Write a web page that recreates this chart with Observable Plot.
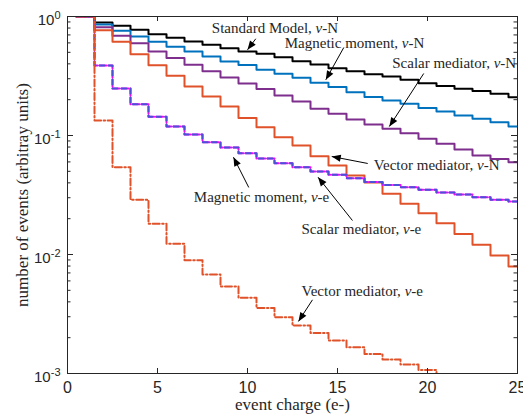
<!DOCTYPE html>
<html><head><meta charset="utf-8">
<script src="https://cdn.jsdelivr.net/npm/d3@7"></script>
<script src="https://cdn.jsdelivr.net/npm/@observablehq/plot@0.6"></script>
<style>body{margin:0;background:#fff;}</style>
</head><body><div id="chart"></div>
<script>
// event charge bins (centres)
const charge = [1,2,3,4,5,6,7,8,9,10,11,12,13,14,15,16,17,18,19,20,21,22,23,24,25];

// series values (normalised number of events)
const standardModelN = [1,0.890,0.835,0.773,0.710,0.662,0.616,0.578,0.542,0.508,0.486,0.455,0.421,0.395,0.368,0.347,0.327,0.313,0.294,0.275,0.260,0.247,0.236,0.224,0.210];
const magneticN = [1,0.857,0.758,0.679,0.613,0.556,0.508,0.461,0.419,0.391,0.357,0.330,0.305,0.277,0.255,0.231,0.211,0.197,0.185,0.170,0.159,0.147,0.138,0.129,0.119];
const scalarN = [1,0.813,0.688,0.597,0.508,0.447,0.393,0.347,0.307,0.273,0.246,0.217,0.193,0.168,0.152,0.136,0.124,0.114,0.1045,0.0938,0.0851,0.0762,0.0679,0.0635,0.0597];
const vectorN = [1,0.767,0.613,0.482,0.390,0.318,0.258,0.213,0.175,0.140,0.1174,0.0968,0.0824,0.0670,0.0560,0.0461,0.0403,0.0324,0.0267,0.0222,0.0183,0.0149,0.0121,0.00981,0.00792];
const magneticE = [1,0.388,0.248,0.183,0.1436,0.119,0.1019,0.0879,0.0793,0.0709,0.0641,0.0585,0.0542,0.0498,0.0468,0.0438,0.0407,0.0384,0.0368,0.0350,0.0332,0.0319,0.0303,0.0288,0.0279];
const scalarE = [1,0.388,0.248,0.183,0.1436,0.119,0.1019,0.0879,0.0793,0.0709,0.0641,0.0585,0.0542,0.0498,0.0468,0.0438,0.0407,0.0384,0.0368,0.0350,0.0332,0.0319,0.0303,0.0288,0.0279];
const vectorE = [1,0.134,0.0542,0.0288,0.0181,0.0123,0.00895,0.00679,0.00538,0.00433,0.00355,0.00297,0.00253,0.00219,0.00189,0.00166,0.00146,0.00131,0.00119,0.00107,0.0009];

// ticks
const xTicks = [0,5,10,15,20,25];
const yMajor = [1e-3,1e-2,1e-1,1];
const yMinorFactors = [2,3,4,5,6,7,8,9];

// labels
const xLabel = "event charge (e-)";
const yLabel = "number of events (arbitray units)";

// annotations (data coordinates)
const annLabels = ["Standard Model, ν-N","Magnetic moment, ν-N","Scalar mediator, ν-N","Vector mediator, ν-N","Magnetic moment, ν-e","Scalar mediator, ν-e","Vector mediator, ν-e"];
const annX = [8.02,12.07,18.04,17.02,7.02,13.0,13.0];
const annY = [0.793,0.593,0.403,0.056,0.0301,0.0162,0.00492];
const arrX1 = [10.46,15.35,19.79,16.68,10.07,15.83,13.61];
const arrY1 = [0.650,0.549,0.332,0.0582,0.0366,0.0193,0.00416];
const arrX2 = [10.0,14.35,17.88,14.68,9.22,13.92,12.83];
const arrY2 = [0.525,0.294,0.119,0.0666,0.0657,0.0446,0.00274];

function steps(values) {
  const rows = values.map((v, i) => ({x: charge[i] - 0.5, y: v}));
  rows.push({x: charge[values.length - 1] + 0.5, y: values[values.length - 1]});
  return rows;
}
const yMinor = yMajor.slice(0, -1).flatMap(d => yMinorFactors.map(m => d * m));
const annotations = annLabels.map((label, i) => ({label, x: annX[i], y: annY[i]}));
const arrows = annLabels.map((label, i) => ({x1: arrX1[i], y1: arrY1[i], x2: arrX2[i], y2: arrY2[i]}));

const W = 523, H = 414, mL = 67, mR = 6, mT = 16, mB = 41;
const pw = W - mL - mR, ph = H - mT - mB;
const axisColor = "#262626";
const serif = "Liberation Serif, serif";

const lineOpts = {x: "x", y: "y", curve: "step-after", strokeWidth: 2, clip: true};

function arrowRender(I, scales, values, dims, ctx, next) {
  const g = next(I, scales, values, dims, ctx);
  for (const i of I) {
    const x1 = values.x1[i], y1 = values.y1[i], x2 = values.x2[i], y2 = values.y2[i];
    const a = Math.atan2(y2 - y1, x2 - x1);
    const L = 9, w = 3.6;
    const bx = x2 - L * Math.cos(a), by = y2 - L * Math.sin(a);
    const p1x = bx + w * Math.sin(a), p1y = by - w * Math.cos(a);
    const p2x = bx - w * Math.sin(a), p2y = by + w * Math.cos(a);
    const path = document.createElementNS("http://www.w3.org/2000/svg", "path");
    path.setAttribute("d", `M${x2},${y2}L${p1x},${p1y}L${p2x},${p2y}Z`);
    path.setAttribute("fill", "black");
    path.setAttribute("stroke", "none");
    g.appendChild(path);
  }
  return g;
}

const chart = Plot.plot({
  width: W, height: H,
  marginLeft: mL, marginRight: mR, marginTop: mT, marginBottom: mB,
  style: {fontFamily: "Liberation Sans, Arial, sans-serif", fontSize: "16px", background: "white", color: axisColor},
  x: {domain: [0, 25]},
  y: {type: "log", domain: [1e-3, 1]},
  marks: [
    Plot.line(steps(standardModelN), {...lineOpts, stroke: "black"}),
    Plot.line(steps(magneticN), {...lineOpts, stroke: "#0072BD"}),
    Plot.line(steps(scalarN), {...lineOpts, stroke: "#7E2F8E"}),
    Plot.line(steps(vectorN), {...lineOpts, stroke: "#E0522A"}),
    Plot.line(steps(scalarE), {...lineOpts, stroke: "#FF00FF", strokeDasharray: "7,2"}),
    Plot.line(steps(magneticE), {...lineOpts, stroke: "#4A52D6", strokeDasharray: "5,4"}),
    Plot.line(steps(vectorE), {...lineOpts, stroke: "#E0522A", strokeDasharray: "7,2.5,1.5,2.5"}),
    // inward ticks
    Plot.tickY(yMajor, {y: d => d, insetRight: pw - 6, stroke: axisColor}),
    Plot.tickY(yMajor, {y: d => d, insetLeft: pw - 6, stroke: axisColor}),
    Plot.tickY(yMinor, {y: d => d, insetRight: pw - 3.5, stroke: axisColor}),
    Plot.tickY(yMinor, {y: d => d, insetLeft: pw - 3.5, stroke: axisColor}),
    Plot.tickX(xTicks, {x: d => d, insetTop: ph - 5, stroke: axisColor}),
    Plot.tickX(xTicks, {x: d => d, insetBottom: ph - 5, stroke: axisColor}),
    Plot.frame({stroke: axisColor, strokeWidth: 1}),
    // tick labels
    Plot.axisX(xTicks, {tickSize: 0, tickPadding: 8, label: null, fontSize: 16}),
    Plot.axisY(yMajor, {tickSize: 0, tickPadding: 7, dy: 4, label: null, fontSize: 15,
      tickFormat: d => "10^" + Math.round(Math.log10(d))}),
    // axis titles
    Plot.text([xLabel], {frameAnchor: "bottom", dy: 36, text: d => d, textAnchor: "middle", fontFamily: serif, fontSize: 17, fill: axisColor}),
    Plot.text([yLabel], {frameAnchor: "left", dx: -45, rotate: -90, text: d => d, textAnchor: "middle", fontFamily: serif, fontSize: 17, fill: axisColor}),
    // annotations
    Plot.link(arrows, {x1: "x1", y1: "y1", x2: "x2", y2: "y2", stroke: "black", strokeWidth: 1, render: arrowRender}),
    Plot.text(annotations, {x: "x", y: "y", text: "label", textAnchor: "start", fontFamily: serif, fontSize: 15, fill: axisColor})
  ]
});

// superscript exponents on y tick labels
chart.querySelectorAll('g[aria-label="y-axis tick label"] text').forEach(t => {
  const s = t.textContent;
  const m = s.match(/^10\^(-?\d+)$/);
  if (m) {
    t.textContent = "10";
    const ts = document.createElementNS("http://www.w3.org/2000/svg", "tspan");
    ts.setAttribute("dy", "-0.55em");
    ts.setAttribute("font-size", "11px");
    ts.textContent = m[1];
    t.appendChild(ts);
  }
});

// italic nu in annotations
chart.querySelectorAll('text').forEach(t => {
  if (t.children.length === 0 && t.textContent.includes("ν")) {
    const [a, b] = t.textContent.split("ν");
    t.textContent = a;
    const nu = document.createElementNS("http://www.w3.org/2000/svg", "tspan");
    nu.setAttribute("font-style", "italic");
    nu.textContent = "ν";
    t.appendChild(nu);
    const rest = document.createElementNS("http://www.w3.org/2000/svg", "tspan");
    rest.textContent = b;
    t.appendChild(rest);
  }
});

document.getElementById("chart").appendChild(chart);
</script>
</body></html>
